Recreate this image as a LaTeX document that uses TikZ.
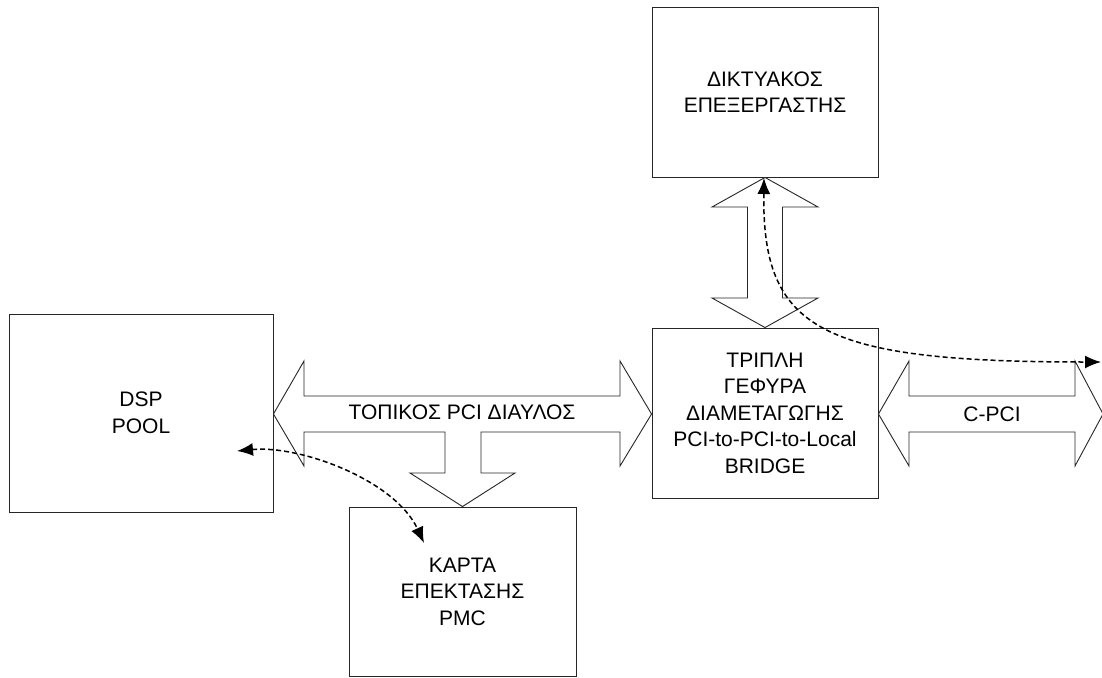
\documentclass[tikz,border=0pt]{standalone}
\usepackage{fontspec}
\setmainfont{Liberation Sans}
\usetikzlibrary{arrows.meta}
\begin{document}
\begin{tikzpicture}[x=1pt,y=-1pt,
  blockbox/.style={draw=black!85,line width=0.9pt,rectangle,inner sep=0pt,align=center,
    font=\fontsize{21}{26.5}\selectfont},
  busarrow/.style={draw=black!85,line width=0.9pt,fill=white},
  buslabel/.style={inner sep=0pt,font=\fontsize{21}{26.5}\selectfont},
  link/.style={line width=1.5pt,dash pattern=on 5pt off 3pt,
    {Latex[length=16pt,width=13pt]}-{Latex[length=16pt,width=13pt]}}
]
\useasboundingbox (0,0) rectangle (1102,677);

% function blocks
\node[blockbox,minimum width=264pt,minimum height=198pt] (dsp) at (141,413) {DSP\\POOL};
\node[blockbox,minimum width=226pt,minimum height=170pt] (net) at (765,92) {ΔΙΚΤΥΑΚΟΣ\\ΕΠΕΞΕΡΓΑΣΤΗΣ};
\node[blockbox,minimum width=226pt,minimum height=170pt] (bridge) at (765,413) {ΤΡΙΠΛΗ\\ΓΕΦΥΡΑ\\ΔΙΑΜΕΤΑΓΩΓΗΣ\\PCI-to-PCI-to-Local\\BRIDGE};
\node[blockbox,minimum width=227pt,minimum height=169pt] (pmc) at (462.5,591.5) {ΚΑΡΤΑ\\ΕΠΕΚΤΑΣΗΣ\\PMC};

% local PCI bus: double block arrow from DSP pool to the bridge, with a branch to the PMC card
\draw[busarrow] (dsp.east |- 0,414) -- (304,361) -- (304,396) -- (620,396) -- (620,361)
  -- (bridge.west |- 0,414) -- (620,466) -- (620,432) -- (481,432) -- (481,473) -- (515,473)
  -- (pmc.north) -- (410,473) -- (445,473) -- (445,432) -- (304,432) -- (304,466) -- cycle;
\node[buslabel] (localbus) at (462,412) {ΤΟΠΙΚΟΣ PCI ΔΙΑΥΛΟΣ};

% bus between the bridge and the network processor
\draw[busarrow] (net.south) -- (818,207) -- (782.5,207) -- (782.5,298) -- (818,298)
  -- (bridge.north) -- (712,298) -- (747.5,298) -- (747.5,207) -- (712,207) -- cycle;

% C-PCI backplane bus
\coordinate (cpciend) at (1103,414);
\draw[busarrow] (bridge.east |- 0,414) -- (909,361) -- (909,396) -- (1075,396) -- (1075,361)
  -- (cpciend) -- (1075,466) -- (1075,432) -- (909,432) -- (909,466) -- cycle;
\node[buslabel] (cpci) at (992,414) {C-PCI};

% data paths
\coordinate (dspin) at (237,451);
\coordinate (pmcin) at (424,543);
\coordinate (netin) at (764,178);
\coordinate (backplane) at (1101,362);
\draw[link] (dspin) .. controls (300,445) and (395,480) .. (pmcin);
\draw[link] (netin) .. controls (762,330) and (820,362) .. (backplane);
\end{tikzpicture}
\end{document}
